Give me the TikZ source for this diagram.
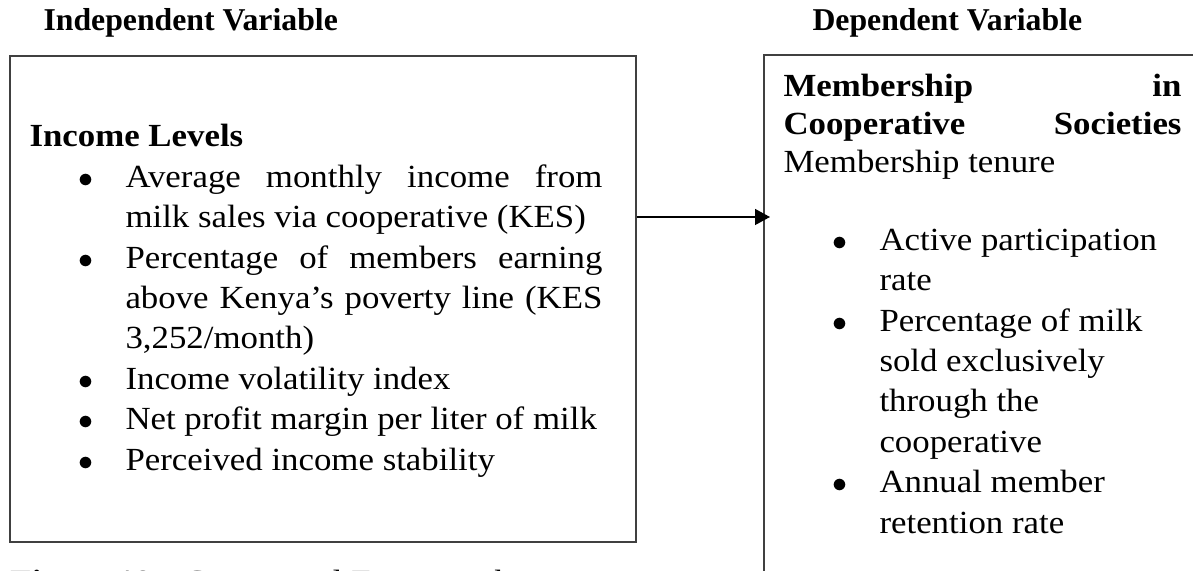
\documentclass[tikz,border=0pt]{standalone}
\usepackage{fontspec}
\setmainfont{Liberation Serif}[FakeStretch=1.08]
\newfontfamily\headfont{Liberation Serif}
\usetikzlibrary{positioning, arrows.meta, calc}

% bullet list used inside both boxes
\newenvironment{bulletlist}{%
  \begin{list}{$\bullet$}{%
    \setlength{\leftmargin}{38.4pt}\setlength{\labelsep}{13pt}%
    \setlength{\labelwidth}{25.4pt}\setlength{\itemsep}{0pt}%
    \setlength{\parsep}{0pt}\setlength{\topsep}{0pt}\setlength{\partopsep}{0pt}}}%
  {\end{list}}

\begin{document}
\begin{tikzpicture}[
    x=0.4pt, y=-0.4pt,
    varhead/.style = {anchor=base west, inner sep=0pt, font=\headfont\fontsize{12.7pt}{15pt}\selectfont\bfseries},
    varbox/.style  = {draw=black!75, line width=0.8pt, anchor=north west, inner sep=0pt},
    boxtext/.style = {anchor=base west, inner sep=0pt, text width=#1, align=justify, font=\fontsize{12.9pt}{16.16pt}\selectfont},
    arrow/.style   = {-{Triangle[length=6pt, width=6.4pt]}, line width=0.55pt},
  ]
  \useasboundingbox (0,0) rectangle (1193,571);
  \clip (0,0) rectangle (1193,571);

  % Headings
  \node[varhead] (indhead) at (43,31) {Independent Variable};
  \node[varhead] (dephead) at (812,31) {Dependent Variable};

  % Boxes
  \node[varbox, minimum width=250.5pt, minimum height=194.4pt] (indbox) at (8.7,55) {};
  \node[varbox, minimum width=176pt, minimum height=222pt] (depbox) at (763,54) {};

  % Independent variable
  \node[boxtext=229.2pt] (indtext) at (29,147) {\textbf{Income Levels}\par
    \begin{bulletlist}
      \item Average monthly income from\linebreak milk sales via cooperative (KES)
      \item Percentage of members earning\linebreak above Kenya’s poverty line (KES\linebreak 3,252/month)
      \item Income volatility index
      \item Net profit margin per liter of milk
      \item Perceived income stability
    \end{bulletlist}};

  % Dependent variable
  \node[boxtext=159.2pt, font=\fontsize{12.9pt}{15.2pt}\selectfont] (deptitle) at (783,97)
    {\textbf{Membership\hfill in\newline Cooperative\hfill Societies}\newline Membership tenure};
  \node[boxtext=159.2pt] (depitems) at (783,210) {\raggedright
    \begin{bulletlist}
      \item Active participation\newline rate
      \item Percentage of milk\newline sold exclusively\newline through the\newline cooperative
      \item Annual member\newline retention rate
    \end{bulletlist}};

  % Arrow
  \coordinate (arrowrow) at (0,217);
  \draw[arrow] (indbox.east |- arrowrow) -- ($(depbox.west |- arrowrow)+(7,0)$);

  % Caption
  \node[anchor=base west, inner sep=0pt, font=\fontsize{12.9pt}{16pt}\selectfont] (caption) at (10,593)
    {\textbf{Figure 19 :} Conceptual Framework};
\end{tikzpicture}
\end{document}
